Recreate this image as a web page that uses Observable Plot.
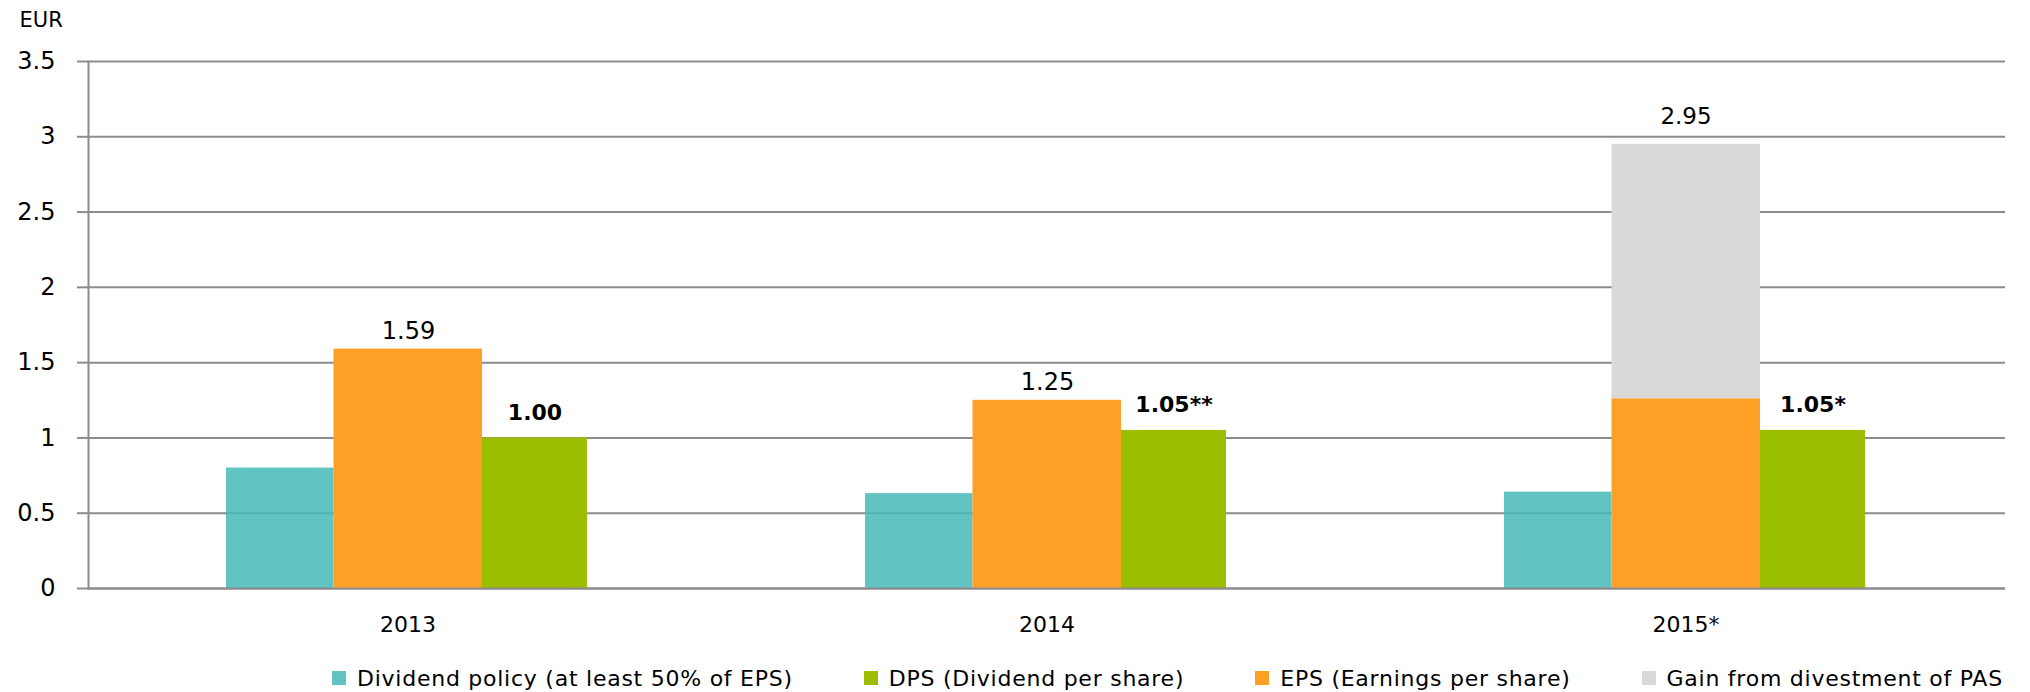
<!DOCTYPE html>
<html><head><meta charset="utf-8">
<script src="https://cdn.jsdelivr.net/npm/d3@7"></script>
<script src="https://cdn.jsdelivr.net/npm/@observablehq/plot@0.6"></script>
<style>
body{margin:0;background:#fff;font-family:"DejaVu Sans",sans-serif;}
#legend{display:flex;align-items:center;height:32px;padding-top:12px;padding-left:332px;gap:71px;font-size:22px;letter-spacing:0.75px;color:#000;}
.item{display:flex;align-items:center;white-space:nowrap}
.sw{width:14px;height:14px;margin-right:11px;}
</style></head><body><div id="chart"></div><div id="legend"></div>
<script>
const years = ["2013", "2014", "2015*"];
const policy = [0.80, 0.63, 0.64];
const eps = [1.59, 1.25, 1.26];
const gain = [0, 0, 1.69];
const dps = [1.00, 1.05, 1.05];
const epsLabels = ["1.59", "1.25", ""];
const totalLabels = ["", "", "2.95"];
const dpsLabels = ["1.00", "1.05**", "1.05*"];
const yTicks = [0, 0.5, 1, 1.5, 2, 2.5, 3, 3.5];
const yTickLabels = ["0", "0.5", "1", "1.5", "2", "2.5", "3", "3.5"];
const seriesNames = ["Dividend policy (at least 50% of EPS)", "DPS (Dividend per share)", "EPS (Earnings per share)", "Gain from divestment of PAS"];
const seriesColors = ["#62c3c3", "#9bbf00", "#fea025", "#d9d9d9"];
const unitLabel = "EUR";

const rows = years.map((year, i) => ({
  year, policy: policy[i], eps: eps[i], gain: gain[i], total: eps[i] + gain[i],
  dps: dps[i], epsLabel: epsLabels[i], totalLabel: totalLabels[i], dpsLabel: dpsLabels[i]
}));

const grid = "#8c8c8c";
const chart = Plot.plot({
  width: 2030,
  height: 650,
  marginLeft: 88,
  marginRight: 25,
  marginTop: 61,
  marginBottom: 62,
  style: {fontFamily: "DejaVu Sans", background: "white", color: "black"},
  x: {type: "band", domain: years, padding: 0},
  y: {domain: [0, 3.5]},
  marks: [
    Plot.ruleY(yTicks, {stroke: grid, strokeWidth: 2}),
    Plot.barY(rows, {x: "year", y: "policy", fill: "#46b8b8", fillOpacity: 0.85, insetLeft: 138, insetRight: 393.5}),
    Plot.barY(rows, {x: "year", y: "eps", fill: seriesColors[2], insetLeft: 245.5, insetRight: 245}),
    Plot.barY(rows.filter(d => d.gain > 0), {x: "year", y1: "eps", y2: "total", fill: seriesColors[3], insetLeft: 245.5, insetRight: 245}),
    Plot.barY(rows, {x: "year", y: "dps", fill: seriesColors[1], insetLeft: 394, insetRight: 140}),
    Plot.ruleY([0], {stroke: grid, strokeWidth: 2}),
    Plot.frame({anchor: "left", stroke: grid, strokeWidth: 2}),
    Plot.axisY({ticks: yTicks, tickFormat: d => yTickLabels[yTicks.indexOf(d)], tickSize: 11, tickPadding: 22, fontSize: 24, stroke: grid, strokeWidth: 2, fill: "black", label: null}),
    Plot.axisX({tickSize: 0, tickPadding: 28, fontSize: 22, fill: "black", label: null}),
    Plot.text(rows, {x: "year", y: "eps", text: "epsLabel", dx: 0.5, dy: -10, lineAnchor: "bottom", fontSize: 24, fill: "black"}),
    Plot.text(rows, {x: "year", y: "total", text: "totalLabel", dy: -20, lineAnchor: "bottom", fontSize: 23, fill: "black"}),
    Plot.text(rows, {x: "year", y: "dps", text: "dpsLabel", dx: 127, dy: -18, lineAnchor: "bottom", fontSize: 22, fontWeight: "bold", fill: "black"}),
    Plot.text([unitLabel], {frameAnchor: "top-left", text: d => d, dx: -69, dy: -35, textAnchor: "start", lineAnchor: "bottom", fontSize: 21, fill: "black"})
  ]
});
document.getElementById("chart").append(chart);

const legend = document.getElementById("legend");
seriesNames.forEach((name, i) => {
  const item = document.createElement("div");
  item.className = "item";
  const sw = document.createElement("span");
  sw.className = "sw";
  sw.style.background = seriesColors[i];
  const label = document.createElement("span");
  label.textContent = name;
  item.append(sw, label);
  legend.append(item);
});
</script>
</body></html>
